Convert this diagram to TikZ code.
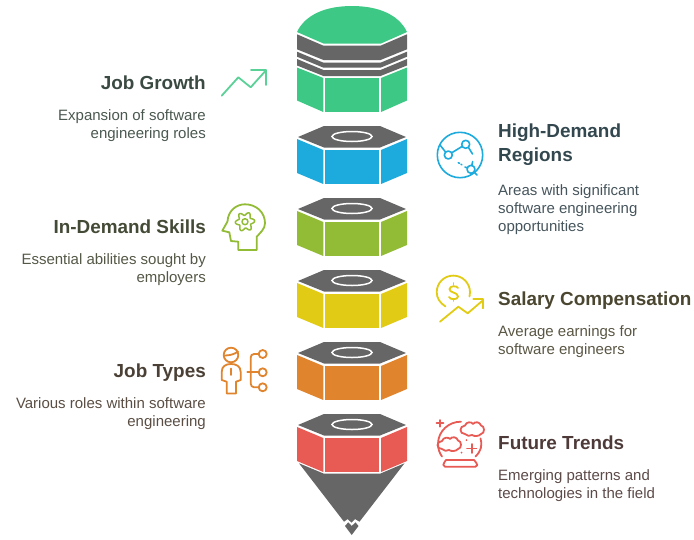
\documentclass[tikz,border=0pt]{standalone}
\usepackage{fontspec}
\setmainfont{Liberation Sans}
\definecolor{cgray}{HTML}{666666}
\definecolor{cgreen}{HTML}{3DC985}
\definecolor{cblue}{HTML}{1CABDC}
\definecolor{colive}{HTML}{92BC36}
\definecolor{cyellow}{HTML}{E2CB14}
\definecolor{corange}{HTML}{E0842D}
\definecolor{cred}{HTML}{E85B55}
\tikzset{
  titletxt/.style={inner sep=0pt,font=\fontsize{18.9}{24}\selectfont\bfseries},
  bodytxt/.style={inner sep=0pt,font=\fontsize{15}{18}\selectfont},
  ico/.style={line width=1.8pt,line cap=round,line join=round},
}
\newcommand{\hexunit}[2]{% y offset, colour
  \begin{scope}[shift={(0,#1)}]
    \fill[cgray] (324,126)--(380,126)--(406,137)--(380,147.5)--(324,147.5)--(298,137)--cycle;
    \draw[white,line width=1.5pt] (352,136.5) ellipse [x radius=20,y radius=5];
    \fill[#2] (297,139)--(323.3,150)--(323.3,184)--(297,173)--cycle;
    \fill[#2] (325,150)--(379.3,150)--(379.3,184)--(325,184)--cycle;
    \fill[#2] (381,150)--(407,139)--(407,173)--(381,184)--cycle;
  \end{scope}}
\begin{document}
\begin{tikzpicture}[x=1pt,y=-1pt]
\useasboundingbox (0,0) rectangle (694,539);
% top stack
\fill[cgreen] (297,32) .. controls (305,15) and (325,6) .. (352,6) .. controls (379,6) and (399,15) .. (407,32)--(381,43.5)--(323.5,43.5)--cycle;
\fill[cgray] (297,34.3)--(323.5,45.7)--(380.5,45.7)--(407,34.3)--(407,49.3)--(380.5,60)--(323.5,60)--(297,49.3)--cycle;
\fill[cgray] (297,51.7)--(323.5,62.7)--(380.5,62.7)--(407,51.7)--(407,56.7)--(380.5,67.7)--(323.5,67.7)--(297,56.7)--cycle;
\fill[cgray] (297,59)--(323.5,70)--(380.5,70)--(407,59)--(407,65.5)--(380.5,76)--(323.5,76)--(297,65.5)--cycle;
\fill[cgreen] (297,67.5)--(323.3,78)--(323.3,112)--(297,100.5)--cycle;
\fill[cgreen] (325,78)--(379.3,78)--(379.3,112)--(325,112)--cycle;
\fill[cgreen] (381,78)--(407,67.5)--(407,100.5)--(381,112)--cycle;
% hex units
\hexunit{0}{cblue}
\hexunit{72}{colive}
\hexunit{144}{cyellow}
\hexunit{216}{corange}
\hexunit{288}{cred}
% cone
\fill[cgray] (299,463.3)--(323.5,473.5)--(380.5,473.5)--(404.5,463.3)--(359.5,521.7)--(355,519)--(351.5,522.7)--(347.7,519)--(344,521.7)--cycle;
\fill[cgray] (345,526)--(348.3,522.3)--(351.7,526)--(355.5,522.3)--(358.5,526)--(351.7,535)--cycle;
% texts
\node[titletxt,anchor=base east,text={rgb,255:red,58;green,74;blue,66}] (t1) at (206,89.3) {Job Growth};
\node[bodytxt,anchor=north east,align=right,text={rgb,255:red,74;green,88;blue,80}] (b1) at (206,109.5) {Expansion of software\\engineering roles};
\node[titletxt,anchor=base west,text={rgb,255:red,51;green,71;blue,79}] (t2a) at (498,137.3) {High-Demand};
\node[titletxt,anchor=base west,text={rgb,255:red,51;green,71;blue,79}] (t2b) at (498,161.3) {Regions};
\node[bodytxt,anchor=north west,align=left,text={rgb,255:red,70;green,85;blue,92}] (b2) at (498,184.5) {Areas with significant\\software engineering\\opportunities};
\node[titletxt,anchor=base east,text={rgb,255:red,67;green,74;blue,53}] (t3) at (206,233.3) {In-Demand Skills};
\node[bodytxt,anchor=north east,align=right,text={rgb,255:red,84;green,88;blue,70}] (b3) at (206,253.5) {Essential abilities sought by\\employers};
\node[titletxt,anchor=base west,text={rgb,255:red,74;green,70;blue,48}] (t4) at (498,305.3) {Salary Compensation};
\node[bodytxt,anchor=north west,align=left,text={rgb,255:red,90;green,86;blue,68}] (b4) at (498,325.5) {Average earnings for\\software engineers};
\node[titletxt,anchor=base east,text={rgb,255:red,74;green,64;blue,53}] (t5) at (206,377.3) {Job Types};
\node[bodytxt,anchor=north east,align=right,text={rgb,255:red,90;green,78;blue,68}] (b5) at (206,397.5) {Various roles within software\\engineering};
\node[titletxt,anchor=base west,text={rgb,255:red,78;green,59;blue,57}] (t6) at (498,449.3) {Future Trends};
\node[bodytxt,anchor=north west,align=left,text={rgb,255:red,92;green,74;blue,72}] (b6) at (498,469.5) {Emerging patterns and\\technologies in the field};
% growth icon
\draw[ico,cgreen!85!white] (221.7,95.7)--(238.3,77.3)--(250.7,87.3)--(266,70.3);
\draw[ico,cgreen!85!white] (251,70)--(266,70)--(266,85);
% regions icon
\begin{scope}[ico,cblue,line width=1.6pt]
\draw (460,155) circle [radius=22.7];
\draw (448.3,155) circle [radius=4];
\draw (465.7,144.3) circle [radius=4];
\draw (471,169.3) circle [radius=4];
\draw (440,145)--(445.5,152);
\draw (451.7,152.8)--(462,146.5);
\draw (468.5,147.5)--(472.5,154);
\draw (458.3,162.7)--(459.5,163.3);
\draw (461,164.3)--(461.8,164.8);
\draw (472.7,161.5)--(471.8,165.5);
\draw (465,167)--(467.5,168);
\draw (474,172)--(477,175);
\end{scope}
% head icon
\begin{scope}[ico,colive]
\draw (238.3,250)--(238.3,241.7)--(231,241)--(229.3,232.3)--(222.3,230.7)--(227.5,221.5)
  .. controls (228,211) and (236,204.3) .. (245,204.3)
  .. controls (256,204.3) and (265,212) .. (265,223.3)
  .. controls (265,229) and (260,233) .. (256.7,236.7)--(256.7,250)--cycle;
\draw[line width=1.5pt] plot[domain=0:360,samples=97,smooth] ({245+(8+1.7*cos(6*\x+30))*cos(\x)},{221.7+(8+1.7*cos(6*\x+30))*sin(\x)})--cycle;
\draw[line width=1.5pt] (245,221.7) circle [radius=3];
\end{scope}
% salary icon
\begin{scope}[ico,cyellow]
\draw (445.5,306.5) .. controls (440,303) and (436.7,298) .. (436.7,292.3)
  .. controls (436.7,283) and (444,275.6) .. (453.3,275.6)
  .. controls (462.5,275.6) and (470,283) .. (470,292.3)
  .. controls (470,293.5) and (469.8,295) .. (469.5,296.5);
\draw (458,288) .. controls (457,285.5) and (450,285.5) .. (449.5,289)
  .. controls (449,293) and (458,292) .. (458,296.5)
  .. controls (458,300) and (450,300) .. (449,297);
\draw (453.5,283)--(453.5,285);
\draw (453.5,299)--(453.5,301);
\draw (440,321.7)--(458.3,306.7)--(467.7,313.3)--(483.3,300);
\draw (473.3,299.3)--(483.3,299.3)--(483.3,308.3);
\end{scope}
% person icon
\begin{scope}[ico,corange]
\draw (231,355) circle [radius=7.3];
\draw (225,355.5) .. controls (230,355.5) and (235,354) .. (238,351.5);
\draw (221.7,380)--(221.7,372) .. controls (221.7,366) and (226,364) .. (231,364)
  .. controls (236,364) and (240.7,366) .. (240.7,372)--(240.7,380)--(236,381.7)--(236,393.5)--(226.7,393.5)--(226.7,381.7)--cycle;
\draw (231,368.5)--(231,375);
\draw (247.3,372.3)--(258.3,372.3);
\draw (258.5,354)--(254,354) .. controls (252,354) and (250.7,355.5) .. (250.7,357.5)--(250.7,383.5) .. controls (250.7,385.5) and (252,387.3) .. (254,387.3)--(258.5,387.3);
\draw (262.7,354) circle [radius=4];
\draw (262.7,372.3) circle [radius=4];
\draw (262.7,387.3) circle [radius=4];
\end{scope}
% crystal ball icon
\begin{scope}[ico,cred]
\draw (436.5,423.3)--(443.5,423.3);
\draw (440,420)--(440,426.7);
\draw (461,421.7) .. controls (449,421.5) and (438,431) .. (438,444) .. controls (438,449) and (439.5,453) .. (442,456.5);
\draw (480.5,438.5) .. controls (482.5,446) and (481,451) .. (475.5,456.5);
\draw (446,460)--(474,460) .. controls (475,462) and (477.3,463) .. (477.3,465) .. controls (477.3,466) and (476.5,466.7) .. (475.5,466.7)--(445,466.7) .. controls (444,466.7) and (443.3,466) .. (443.3,465) .. controls (443.3,463) and (445,462) .. (446,460)--cycle;
% clouds
\draw (465,434) .. controls (459,434) and (459,426) .. (465,425.5)
  .. controls (466,421.5) and (472,421.5) .. (473,424)
  .. controls (475,421) and (480,422) .. (481,425.5)
  .. controls (485,426) and (485,433.5) .. (481,434)
  .. controls (479,436.5) and (474,436.5) .. (472,435)
  .. controls (470,436.5) and (467,436) .. (465,434)--cycle;
\draw (442,449) .. controls (436,449) and (436,441.5) .. (442,441)
  .. controls (443,437) and (449,437) .. (450,439)
  .. controls (452,436) and (457,437) .. (458,440.5)
  .. controls (462,441) and (462,448.5) .. (458,449)
  .. controls (456,451.5) and (451,451.5) .. (449,450)
  .. controls (447,451.5) and (444,451) .. (442,449)--cycle;
\draw (467,448.5)--(476.5,448.5);
\draw (471.7,444)--(471.7,453);
\fill (466.5,440) circle [radius=1];
\fill (461.5,452.7) circle [radius=1];
\end{scope}
\end{tikzpicture}
\end{document}
